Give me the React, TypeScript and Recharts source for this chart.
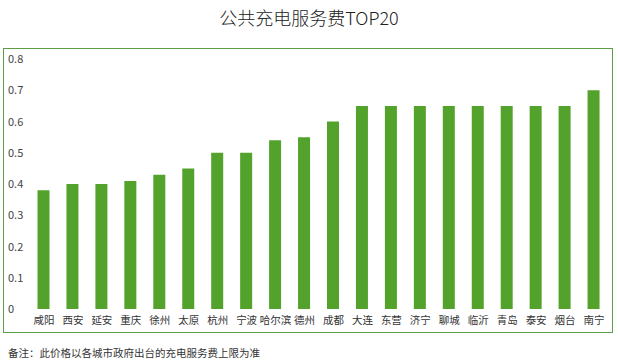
import React from 'react'
import { Bar, BarChart, XAxis, YAxis } from 'recharts';

const cities = ['咸阳', '西安', '延安', '重庆', '徐州', '太原', '杭州', '宁波', '哈尔滨', '德州',
    '成都', '大连', '东营', '济宁', '聊城', '临沂', '青岛', '泰安', '烟台', '南宁'];
const fees = [0.38, 0.40, 0.40, 0.41, 0.43, 0.45, 0.50, 0.50, 0.54, 0.55,
    0.60, 0.65, 0.65, 0.65, 0.65, 0.65, 0.65, 0.65, 0.65, 0.70];
const yTicks = [0, 0.1, 0.2, 0.3, 0.4, 0.5, 0.6, 0.7, 0.8];

const FONT = '"Noto Sans CJK SC", "Noto Sans", sans-serif';
const GREEN = '#53a22c';

const chartData = cities.map((city, i) => ({ city, fee: fees[i] }));

//Y LABELS SIT LEFT ALIGNED AGAINST THE BORDER
const LeftTick = ({ y, payload }: any) => (
    <text x={8} y={y} dy={4} fill="#444" fontSize={11} fontFamily={FONT} textAnchor="start">
        {payload.value}
    </text>
);

export default function App() {
    return (
        <div style={{ position: 'absolute', left: 0, top: 0, width: 618, height: 364, background: '#fff', fontFamily: FONT }}>
            <div style={{ position: 'absolute', left: 0, top: 4, width: 618, textAlign: 'center', fontSize: 18, fontWeight: 300, color: '#222' }}>
                公共充电服务费TOP20
            </div>
            <div style={{ position: 'absolute', left: 3, top: 48, width: 608, height: 283, border: '1.5px solid #5b9e44' }} />
            <div style={{ position: 'absolute', left: 8, top: 345, fontSize: 10.5, color: '#333' }}>
                备注：此价格以各城市政府出台的充电服务费上限为准
            </div>
            <div style={{ position: 'absolute', left: 0, top: 0 }}>
                <BarChart width={618} height={364} data={chartData} margin={{ top: 59, right: 9.5, bottom: 35, left: 7.5 }}>
                    <XAxis dataKey="city" axisLine={false} tickLine={false} interval={0}
                        tick={{ fontSize: 10.5, fill: '#333', fontFamily: FONT }} height={20} />
                    <YAxis domain={[0, 0.8]} ticks={yTicks} axisLine={false} tickLine={false} width={22} tick={<LeftTick />} />
                    <Bar dataKey="fee" fill={GREEN} barSize={12} isAnimationActive={false} />
                </BarChart>
            </div>
        </div>
    )
}
